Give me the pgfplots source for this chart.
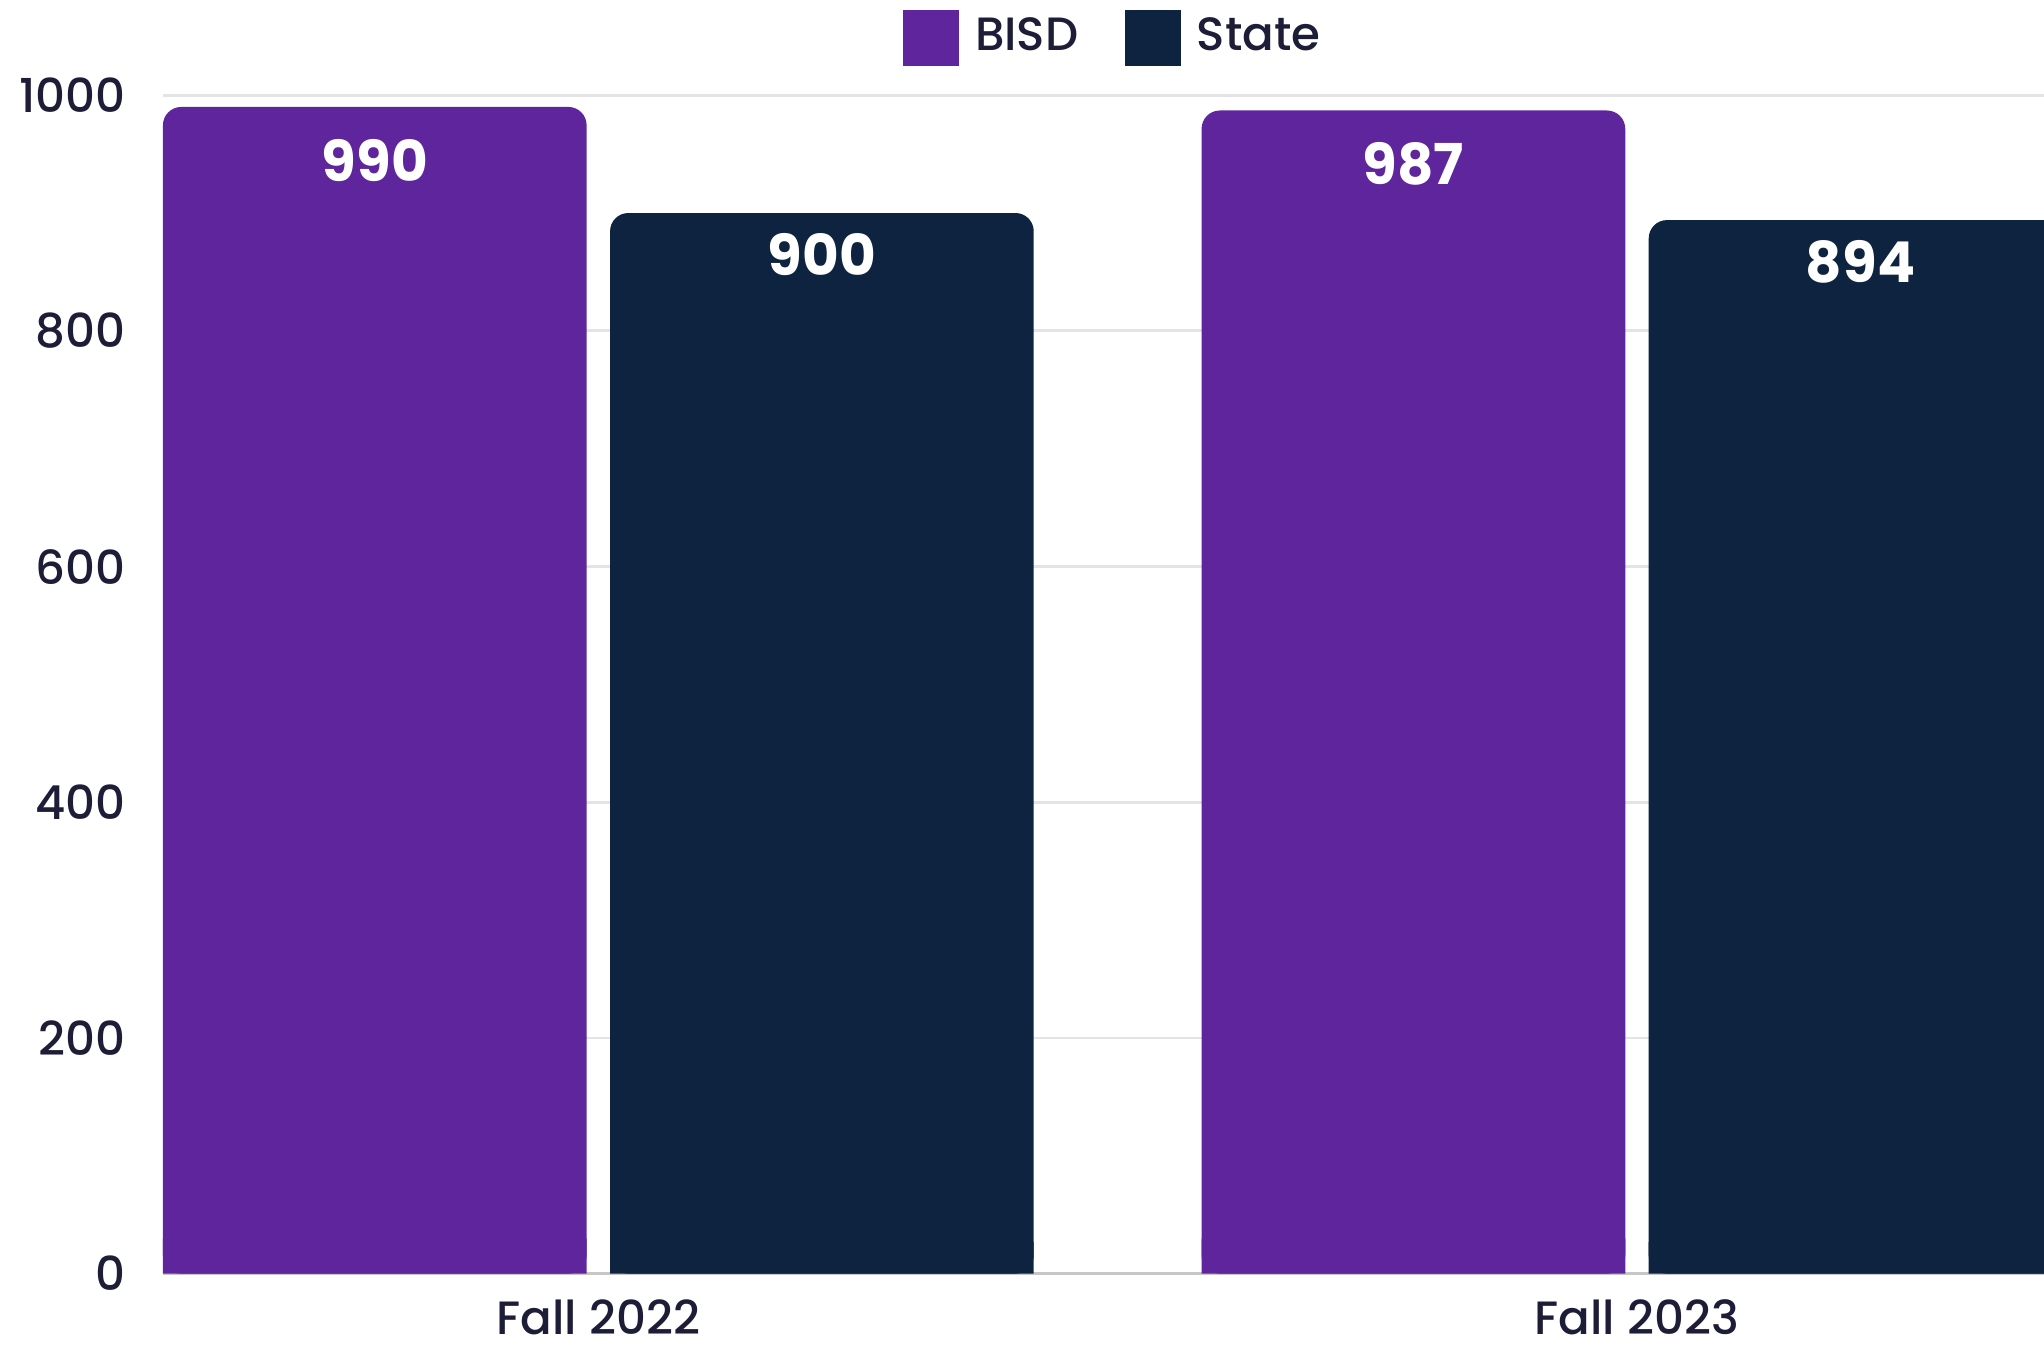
\documentclass[border=0pt]{standalone}
\usepackage{fontspec}
\setmainfont{Poppins}
\newfontfamily\medfont{Poppins Medium}
\usepackage{pgfplots}
\pgfplotsset{compat=1.18}
\definecolor{bisd}{RGB}{94,37,156}
\definecolor{state}{RGB}{14,35,63}
\definecolor{ink}{RGB}{30,29,56}
\definecolor{gridc}{RGB}{228,228,232}

\begin{document}
\begin{tikzpicture}
\begin{axis}[
    scale only axis, width=14.43cm, height=9.04cm,
    at={(0,0)}, anchor=south west,
    ybar, bar width=32.5mm,
    xmin=-0.4192, xmax=1.3919, ymin=0, ymax=1000,
    enlargelimits=false,
    xtick={0,1}, xticklabels={Fall 2022, Fall 2023},
    ytick={0,200,...,1000},
    major tick length=0pt,
    axis x line*=bottom, axis y line*=left,
    y axis line style={draw=none},
    x axis line style={draw=gray!45, line width=0.6pt, -},
    ymajorgrids, major grid style={draw=gridc, line width=0.6pt},
    tick label style={font=\medfont\fontsize{10.2}{12}\selectfont, text=ink, inner sep=0pt},
    yticklabel style={xshift=-2.8mm},
    xticklabel style={yshift=-1.9mm},
    /pgf/number format/assume math mode=true,
    /pgf/number format/set thousands separator={},
    legend style={at={(0.5,1)}, anchor=center, xshift=1mm, yshift=4.4mm, draw=none, fill=none,
        legend columns=-1, font=\medfont\fontsize{10.2}{12}\selectfont, text=ink,
        /tikz/every even column/.append style={column sep=2.9mm},
        /tikz/every odd column/.append style={column sep=0.5mm}},
    legend image code/.code={\fill[#1, sharp corners] (0mm,-2.15mm) rectangle (4.3mm,2.15mm);},
    every node near coord/.append style={anchor=north, inner sep=0pt,
        text=white, font=\bfseries\fontsize{12.3}{15}\selectfont},
]
% BISD
\addplot[fill=bisd, draw=none, bar shift=-17.15mm, rounded corners=1.4mm,
    nodes near coords, every node near coord/.append style={yshift=-2.4mm}]
    coordinates {(0,990) (1,987)};
\addlegendentry{BISD}
% State
\addplot[fill=state, draw=none, bar shift=17.15mm, rounded corners=1.4mm,
    nodes near coords, every node near coord/.append style={yshift=-1.5mm}]
    coordinates {(0,900) (1,894)};
\addlegendentry{State}
% square off the bottom corners
\addplot[fill=bisd, draw=none, bar shift=-17.15mm, forget plot,
    y filter/.expression={y*0.03}] coordinates {(0,990) (1,987)};
\addplot[fill=state, draw=none, bar shift=17.15mm, forget plot,
    y filter/.expression={y*0.03}] coordinates {(0,900) (1,894)};
\end{axis}
\pgfresetboundingbox
\path (-1.25cm,-0.55cm) rectangle (14.43cm,9.77cm);
\end{tikzpicture}
\end{document}
